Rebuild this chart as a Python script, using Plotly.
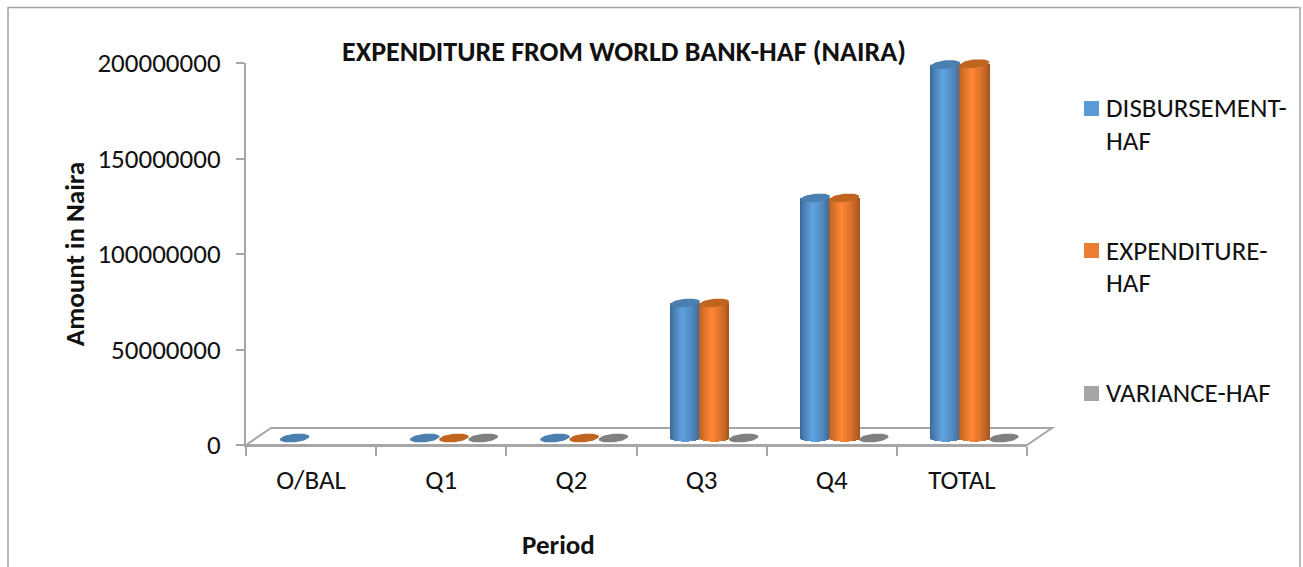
import math
import plotly.graph_objects as go

periods = ["O/BAL", "Q1", "Q2", "Q3", "Q4", "TOTAL"]
disbursement = [0, 0, 0, 70700000, 125700000, 195500000]
expenditure = [None, 0, 0, 70700000, 125700000, 196000000]
variance = [None, 0, 0, 0, 0, 0]
y_ticks = [0, 50000000, 100000000, 150000000, 200000000]

W, H = 1303, 567
L, R, T, B = 246, 1027, 63, 445
TOP = 50   # upper edge of the overlay area that holds the caps
FONT = "Carlito, Lato, sans-serif"
TXT = "#111111"
AX = "#a6a6a6"
PX_X = (len(periods)) / (R - L)      # category units per pixel
PX_Y = y_ticks[-1] / (B - T)         # value units per pixel
BASE = 7 * PX_Y
RX, RY, TILT = 14.8 * PX_X, 4.2 * PX_Y, 1.4 * PX_Y

series = [
    dict(name="DISBURSEMENT-HAF", values=disbursement, offset=-16.5, swatch="#5b9bd5", cap="#4a7fb0",
         edgeL=(58, 100, 145), mid=(96, 163, 225), edgeR=(62, 105, 150)),
    dict(name="EXPENDITURE-HAF", values=expenditure, offset=12.7, swatch="#ed7d31", cap="#bf651f",
         edgeL=(180, 95, 30), mid=(255, 134, 52), edgeR=(165, 85, 28)),
    dict(name="VARIANCE-HAF", values=variance, offset=42.0, swatch="#a5a5a5", cap="#808080",
         edgeL=(110, 110, 110), mid=(170, 170, 170), edgeR=(110, 110, 110)),
]


def shade(s, u):
    """u in [-1, 1] across the cylinder."""
    pk = -0.15
    if u < pk:
        f = ((u + 1) / (pk + 1)) ** 0.75
        a = s["edgeL"]
    else:
        f = ((1 - u) / (1 - pk)) ** 0.75
        a = s["edgeR"]
    c = [round(a[i] + (s["mid"][i] - a[i]) * f) for i in range(3)]
    return f"rgb({c[0]},{c[1]},{c[2]})"


fig = go.Figure()
STRIPS = 30
for s in series:
    xs = [i + s["offset"] * PX_X for i in range(len(periods))]
    # the series itself
    fig.add_trace(go.Bar(x=xs, y=s["values"], base=BASE, width=2 * RX, name=s["name"],
                         marker=dict(color=s["swatch"], line=dict(width=0)),
                         showlegend=False))
    # cylinder shading strips, derived from the values
    sx, sy, sb, sc = [], [], [], []
    for x, v in zip(xs, s["values"]):
        if not v:
            continue
        for k in range(STRIPS):
            u = -1 + (k + 0.5) * 2 / STRIPS
            drop = 3.6 * PX_Y * math.sqrt(max(0, 1 - u * u))
            sx.append(x + u * RX)
            sb.append(BASE - drop)
            sy.append(v + drop)
            sc.append(shade(s, u))
    if sx:
        fig.add_trace(go.Bar(x=sx, y=sy, base=sb, width=2 * RX / STRIPS * 1.25,
                             marker=dict(color=sc, line=dict(width=0)),
                             showlegend=False, hoverinfo="skip"))

# elliptical caps, placed from the values, on a second y axis with the same scale
for s in series:
    ex, ey = [], []
    for i, v in enumerate(s["values"]):
        if v is None:
            continue
        cx = i + s["offset"] * PX_X
        for a in range(0, 361, 8):
            t = math.radians(a)
            ex.append(cx + RX * math.cos(t))
            ey.append(BASE + v + RY * math.sin(t) + TILT * math.cos(t))
        ex.append(None)
        ey.append(None)
    fig.add_trace(go.Scatter(x=ex, y=ey, yaxis="y2", mode="lines", fill="toself", fillcolor=s["cap"],
                             line=dict(width=0, color=s["cap"]),
                             showlegend=False, hoverinfo="skip"))

x0, x1 = -0.5, len(periods) - 0.5


def PXP(px):
    return (px - L) / (R - L)


def PYP(py):
    return (B - py) / (B - TOP)


shapes = [
    # floor
    dict(type="path", xref="paper", yref="paper", layer="below",
         path=f"M {PXP(L)} {PYP(B)} L {PXP(L + 25)} {PYP(B - 17)} L {PXP(R + 25)} {PYP(B - 17)} L {PXP(R)} {PYP(B)} Z",
         line=dict(color=AX, width=2), fillcolor="white"),
    # frame
    dict(type="rect", xref="paper", yref="paper", layer="below",
         x0=PXP(8), x1=PXP(1300), y0=PYP(590), y1=PYP(7.5),
         line=dict(color="#a3a3a3", width=1.5), fillcolor="rgba(0,0,0,0)"),
]
annotations = []


def note(text, px, py, size=21, bold=False, anchor="left"):
    annotations.append(dict(text=f"<b>{text}</b>" if bold else text, xref="paper", yref="paper",
                            x=PXP(px), y=PYP(py), xanchor=anchor, yanchor="middle",
                            showarrow=False, font=dict(family=FONT, size=size, color=TXT)))


legend_rows = [
    (series[0], 108.5, ["DISBURSEMENT-", "HAF"], [107, 140]),
    (series[1], 250.5, ["EXPENDITURE-", "HAF"], [250, 282]),
    (series[2], 393.5, ["VARIANCE-HAF"], [392]),
]
for s, cy, lines, ys in legend_rows:
    shapes.append(dict(type="rect", xref="paper", yref="paper",
                       x0=PXP(1084), x1=PXP(1099), y0=PYP(cy + 7.5), y1=PYP(cy - 7.5),
                       fillcolor=s["swatch"], line=dict(width=0)))
    for t, y in zip(lines, ys):
        note(t, 1104, y, size=27)
note("Period", 558, 544, size=27, bold=True, anchor="center")

fig.update_layout(
    width=W, height=H, autosize=False,
    margin=dict(l=L, r=W - R, t=TOP, b=H - B),
    paper_bgcolor="white", plot_bgcolor="rgba(0,0,0,0)",
    barmode="overlay", bargap=0, showlegend=False,
    title=dict(text="<b>EXPENDITURE FROM WORLD BANK-HAF (NAIRA)</b>", xref="container", yref="container",
               x=624 / W, xanchor="center", y=1 - 51 / H, yanchor="middle",
               font=dict(family=FONT, size=28, color=TXT)),
    xaxis=dict(range=[x0, x1], tickvals=list(range(len(periods))), ticktext=periods,
               ticks="outside", ticklen=0, tickwidth=0, ticklabelstandoff=10, showgrid=False, zeroline=False,
               showline=True, linecolor=AX, linewidth=2, tickfont=dict(family=FONT, size=27, color=TXT),
               minor=dict(tickvals=[i - 0.5 for i in range(len(periods) + 1)], ticks="outside",
                          ticklen=9, tickwidth=2, tickcolor=AX, showgrid=False)),
    yaxis=dict(domain=[0, (B - T) / (B - TOP)], range=[0, y_ticks[-1]], tickvals=y_ticks,
               ticktext=[str(v) for v in y_ticks],
               ticks="outside", ticklen=8, tickwidth=2, tickcolor=AX, ticklabelstandoff=10, showgrid=False,
               zeroline=False, showline=True, linecolor=AX, linewidth=2,
               tickfont=dict(family=FONT, size=27, color=TXT),
               title=dict(text="<b>Amount in Naira</b>", standoff=5, font=dict(family=FONT, size=27, color=TXT))),
    yaxis2=dict(domain=[0, 1], range=[0, y_ticks[-1] + (T - TOP) * PX_Y], visible=False,
                anchor="x", fixedrange=True),
    shapes=shapes, annotations=annotations,
)

fig.write_html("out.html", config=dict(displayModeBar=False),
               post_script="document.body.style.margin='0';document.body.style.overflow='hidden';")
